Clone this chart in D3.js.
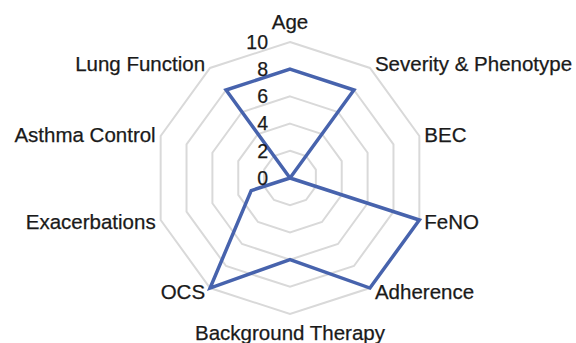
<!DOCTYPE html>
<html>
<head>
<meta charset="utf-8">
<script src="https://cdn.jsdelivr.net/npm/d3@7"></script>
<style>
  body { margin: 0; background: #fff; }
  text { font-family: "Liberation Sans", Arial, sans-serif; fill: #1a1a1a; stroke: #1a1a1a; stroke-width: 0.25px; }
</style>
</head>
<body>
<script>
// radar data
var kategorije = ["Age", "Severity & Phenotype", "BEC", "FeNO", "Adherence",
  "Background Therapy", "OCS", "Exacerbations", "Asthma Control", "Lung Function"];
var vrednosti = [8, 8, 0, 10, 10, 6, 10, 3, 0, 8];
var tickVrednosti = [0, 2, 4, 6, 8, 10];
var obroci = [2, 4, 6, 8, 10];

var width = 576, height = 343;
var cx = 290, cy = 178, polmer = 136;

var svg = d3.select("body").append("svg")
  .attr("width", width)
  .attr("height", height);

var rScale = d3.scaleLinear().domain([0, 10]).range([0, polmer]);
var kot = d3.scaleLinear().domain([0, kategorije.length]).range([0, 2 * Math.PI]);

var g = svg.append("g").attr("transform", "translate(" + cx + "," + cy + ")");

function tocka(i, v) {
  var a = kot(i);
  return [rScale(v) * Math.sin(a), -rScale(v) * Math.cos(a)];
}

// grid decagons
var mreza = d3.line().x(function(d) { return d[0]; }).y(function(d) { return d[1]; }).curve(d3.curveLinearClosed);
obroci.forEach(function(o) {
  var pts = kategorije.map(function(k, i) { return tocka(i, o); });
  g.append("path")
    .attr("d", mreza(pts))
    .attr("fill", "none")
    .attr("stroke", "#d9d9d9")
    .attr("stroke-width", 2);
});

// data line
var pts = vrednosti.map(function(v, i) { return tocka(i, v); });
g.append("path")
  .attr("d", mreza(pts))
  .attr("fill", "none")
  .attr("stroke", "#4763ad")
  .attr("stroke-width", 3.5)
  .attr("stroke-linejoin", "miter");

// tick labels
g.selectAll(".tick").data(tickVrednosti).enter().append("text")
  .attr("class", "tick")
  .attr("x", -22)
  .attr("y", function(d) { return -rScale(d); })
  .attr("dy", "0.35em")
  .attr("text-anchor", "end")
  .style("font-size", "19.5px")
  .text(function(d) { return d; });

// category labels
g.selectAll(".lab").data(kategorije).enter().append("text")
  .attr("class", "lab")
  .each(function(d, i) {
    var p = tocka(i, 10);
    var s = Math.sin(kot(i)), c = Math.cos(kot(i));
    var el = d3.select(this);
    if (Math.abs(s) < 0.01) {
      el.attr("text-anchor", "middle").attr("x", p[0]);
      if (c > 0) el.attr("y", p[1] - 13);
      else el.attr("y", p[1] + 26);
    } else {
      el.attr("text-anchor", s > 0 ? "start" : "end")
        .attr("x", p[0] + (s > 0 ? 5 : -5))
        .attr("y", p[1] - 5 * c)
        .attr("dy", "0.35em");
    }
  })
  .style("font-size", "20.5px")
  .text(function(d) { return d; });
</script>
</body>
</html>
